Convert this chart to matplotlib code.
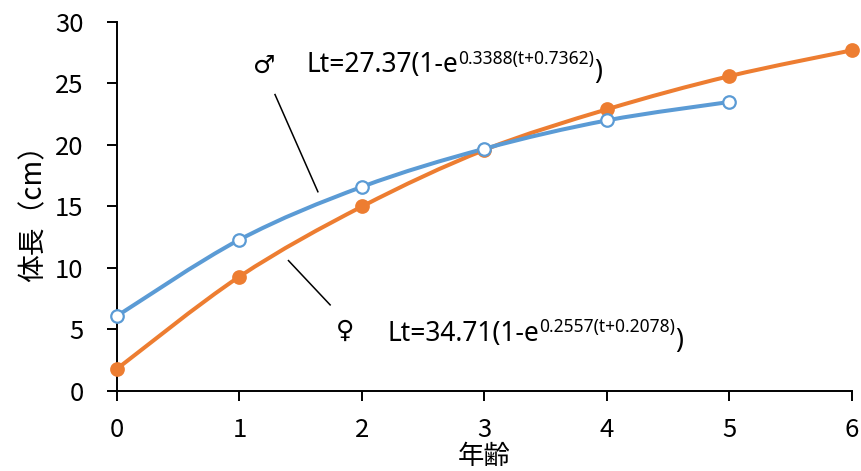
import numpy as np
import matplotlib

matplotlib.use('Agg')
import matplotlib.pyplot as plt
from matplotlib.path import Path
from matplotlib.patches import PathPatch

plt.rcParams['font.family'] = ['Noto Sans CJK JP', 'DejaVu Sans']

# データ（年齢と体長）
age_male = [0, 1, 2, 3, 4, 5]
len_male = [6.1, 12.3, 16.6, 19.7, 22.0, 23.5]
age_female = [0, 1, 2, 3, 4, 5, 6]
len_female = [1.8, 9.3, 15.0, 19.6, 22.9, 25.6, 27.7]

x_ticks = [0, 1, 2, 3, 4, 5, 6]
y_ticks = [0, 5, 10, 15, 20, 25, 30]

eq_male = ('Lt=27.37(1-e', '0.3388(t+0.7362)', ')')
eq_female = ('Lt=34.71(1-e', '0.2557(t+0.2078)', ')')

BLUE = '#5B9BD5'
ORANGE = '#ED7D31'


def smooth_path(xs, ys):
    # Excel風の平滑線（Catmull-Rom -> ベジェ）
    p = np.column_stack([xs, ys]).astype(float)
    n = len(p)
    verts = [p[0]]
    codes = [Path.MOVETO]
    for i in range(n - 1):
        p0 = p[i - 1] if i > 0 else p[i]
        p3 = p[i + 2] if i + 2 < n else p[i + 1]
        c1 = p[i] + (p[i + 1] - p0) / 6
        c2 = p[i + 1] - (p3 - p[i]) / 6
        verts += [c1, c2, p[i + 1]]
        codes += [Path.CURVE4] * 3
    return Path(verts, codes)


def equation(x, y, parts):
    main, sup, close = parts
    t1 = ax.text(x, y, main, fontsize=19, va='baseline', ha='left',
                 family=['Noto Sans'])
    t2 = ax.annotate(sup, xy=(1, 0.55), xycoords=t1, va='baseline',
                     ha='left', fontsize=12.5, family=['Noto Sans'])
    ax.annotate(close, xy=(1, 0), xycoords=(t2, t1), va='baseline', ha='left',
                fontsize=19, family=['Noto Sans'])


fig = plt.figure(figsize=(8.62, 4.71), dpi=100)
ax = fig.add_axes([0.1357, 0.1699, 0.8527, 0.7834])

for xs, ys, col, face in [(age_female, len_female, ORANGE, ORANGE),
                          (age_male, len_male, BLUE, 'white')]:
    ax.add_patch(PathPatch(smooth_path(xs, ys), fill=False, edgecolor=col,
                           lw=2.9, capstyle='round', zorder=3))
    ax.plot(xs, ys, ls='none', marker='o', ms=9, mfc=face, mec=col,
            mew=1.6, zorder=4, clip_on=False)

ax.set_xlim(0, 6)
ax.set_ylim(0, 30)
ax.set_xticks(x_ticks)
ax.set_yticks(y_ticks)
for s in ['top', 'right']:
    ax.spines[s].set_visible(False)
for s in ['left', 'bottom']:
    ax.spines[s].set_linewidth(1.4)
ax.tick_params(axis='both', direction='out', length=7, width=1.4, labelsize=18.5)
ax.tick_params(axis='y', pad=17)
ax.tick_params(axis='x', pad=12)

ax.set_xlabel('年齢', fontsize=19, labelpad=0)
ax.xaxis.set_label_coords(0.5, -0.142)
ax.set_ylabel('体長（cm）', fontsize=20)
ax.yaxis.set_label_coords(-0.093, 0.5)

# ラベルと引出線
ax.text(1.2, 26.4, '♂', fontsize=18, ha='center', va='center',
        family=['DejaVu Sans'])
ax.plot([1.29, 1.64], [24.1, 16.2], color='black', lw=1.1, zorder=2)
equation(1.55, 25.9, eq_male)

ax.text(1.86, 4.9, '♀', fontsize=18, ha='center', va='center',
        family=['DejaVu Sans'])
ax.plot([1.40, 1.74], [10.6, 7.0], color='black', lw=1.1, zorder=2)
equation(2.21, 4.1, eq_female)

fig.savefig('out.png', dpi=100)
